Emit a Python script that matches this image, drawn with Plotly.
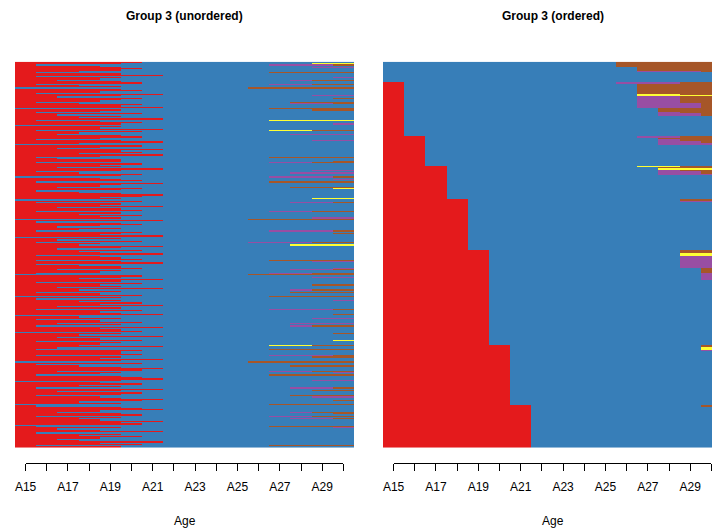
import plotly.graph_objects as go

# ---------------- data ----------------
ages = [f"A{a}" for a in range(15, 31)]
tick_labels = [a if i % 2 == 0 else "" for i, a in enumerate(ages)]

state_codes = ["R", "B", "G", "P", "O", "Y", "N"]
state_colors = ["#E41A1C", "#377EB8", "#4DAF4A", "#984EA3", "#FF7F00", "#FFFF33", "#A65628"]

# number of initial "red" years for each sequence (original order)
red_len = (
    "6514565315" "7154256135" "0564175265" "4136570541" "6253714650" "5471632564" "1573064275" "637412"
    "5516452751" "3650456175" "4265135764" "5061547256" "1536450715" "6425316547" "0526143752" "63471"
    "4561571356" "2541065375" "1645273514" "6051536472" "5164570351" "4625174560" "53724615" "4372165"
    "5615475061" "3576254156" "7504635175" "2651457635" "0156742561" "5347560152" "4715364237" "4615"
)

# end-of-sequence pattern (ages A26..A30) for each sequence ('.' = stays blue)
tails = (
    ".ef.c...h." "..a.g..n.." "m.....c.b." ".ij...hd.." ".....q..a." "...k..o..." ".c........" "....h."
    ".bn.....c." "o..f.a.h.." ".it......." "e..j......" "n....cm..." ".....f.b.." "....r.p..." "....."
    "...hc....a" "j..nm.c..." "..d...g.i." ".h..a....." ".f...b..c." "..o.g....." "b....t.." ".k..h.."
    "..fd...m.." "i...na.h.." ".c.....j.d" "...ic..b.." "h.....gb.n" ".j.....ha." ".........." "..h."
)

tail_patterns = {
    ".": "BBBBB", "a": "BBBBP", "b": "BBBBN", "c": "BBBPP", "d": "BBBNN", "e": "BBBYY",
    "f": "BPPPN", "g": "BBPNN", "h": "BNNNN", "i": "BBNNN", "j": "BBPPN", "k": "BYYNN",
    "m": "NNNNN", "n": "BPPNN", "o": "BBPPP", "p": "BBYYY", "q": "BYYYY", "r": "PPPNN",
    "t": "BBBBY",
}

assert len(red_len) == len(tails)

# ---------------- build sequences ----------------
code = {s: i for i, s in enumerate(state_codes)}
seqs = []
for r, t in zip(red_len, tails):
    n = int(r)
    s = "R" * n + "B" * (11 - n) + tail_patterns[t]
    seqs.append([code[c] for c in s])
ordered = sorted(seqs, key=tuple, reverse=True)
N = len(seqs)

ncol = len(state_codes)
colorscale = []
for i, c in enumerate(state_colors):
    colorscale.append([i / ncol, c])
    colorscale.append([(i + 1) / ncol, c])

W, H = 712, 532
def px(x):
    return x / W
def py(y):
    return 1 - y / H

colw = (354 - 15) / 16.0
left_x0, right_x0 = 15, 383
y_top, y_bot = 61.7, 447.7
ydom = [py(y_bot), py(y_top)]

fig = go.Figure()
common = dict(x=list(range(16)), y=list(range(N)), colorscale=colorscale,
              zmin=-0.5, zmax=ncol - 0.5, showscale=False, hoverinfo="skip", zsmooth=False)
fig.add_trace(go.Heatmap(z=seqs, xaxis="x", yaxis="y", **common))
fig.add_trace(go.Heatmap(z=ordered, xaxis="x2", yaxis="y2", **common))
# tick axes
fig.add_trace(go.Scatter(x=[], y=[], xaxis="x3", yaxis="y", showlegend=False))
fig.add_trace(go.Scatter(x=[], y=[], xaxis="x4", yaxis="y2", showlegend=False))

right_visible = (W - right_x0) / colw  # right panel cut at image edge

hidden = dict(visible=False, showgrid=False, zeroline=False, fixedrange=True, automargin=False)
tick_axis = dict(range=[0, 15], anchor="free", position=py(462.5), showline=True, linecolor="black",
                 linewidth=1, ticks="outside", ticklen=7, tickwidth=1, tickcolor="black",
                 tickvals=list(range(16)), ticktext=tick_labels, showgrid=False, zeroline=False,
                 automargin=False,
                 tickfont=dict(family="Liberation Sans, Arial, sans-serif", size=12, color="black"),
                 ticklabelstandoff=6)

fig.update_layout(
    width=W, height=H, margin=dict(l=0, r=0, t=0, b=0, pad=0, autoexpand=False),
    paper_bgcolor="white", plot_bgcolor="rgba(0,0,0,0)", showlegend=False,
    xaxis=dict(domain=[px(left_x0), px(left_x0 + 16 * colw)], range=[-0.5, 15.5], **hidden),
    yaxis=dict(domain=ydom, range=[N - 0.5, -0.5], **hidden),
    xaxis2=dict(domain=[px(right_x0), 1], range=[-0.5, -0.5 + right_visible], **hidden),
    yaxis2=dict(domain=ydom, range=[N - 0.5, -0.5], anchor="x2", **hidden),
    xaxis3=dict(domain=[px(left_x0 + colw / 2), px(left_x0 + 15.5 * colw)], **tick_axis),
    xaxis4=dict(domain=[px(right_x0 + colw / 2), px(right_x0 + 15.5 * colw)], **tick_axis),
)

font_t = dict(family="Liberation Sans, Arial, sans-serif", size=12, color="black", weight="bold")
font_l = dict(family="Liberation Sans, Arial, sans-serif", size=12, color="black")
for cx, title in [(left_x0 + 8 * colw, "Group 3 (unordered)"), (right_x0 + 8 * colw, "Group 3 (ordered)")]:
    fig.add_annotation(x=px(cx), y=py(16), xref="paper", yref="paper", text=title, showarrow=False,
                       font=font_t, xanchor="center", yanchor="middle")
    fig.add_annotation(x=px(cx), y=py(521), xref="paper", yref="paper", text="Age", showarrow=False,
                       font=font_l, xanchor="center", yanchor="middle")

fig.write_html("out.html")
